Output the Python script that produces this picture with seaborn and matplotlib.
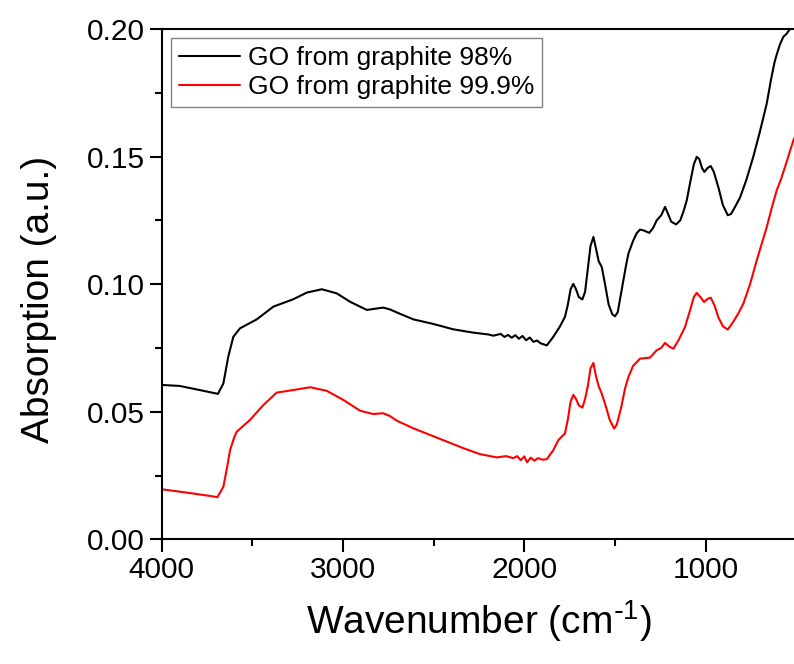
import pandas as pd
import seaborn as sns
import matplotlib
matplotlib.use('Agg')
import matplotlib.pyplot as plt
from matplotlib.ticker import MultipleLocator, FormatStrFormatter

# FTIR spectra (wavenumber in cm-1, absorption in a.u.)
label_98 = 'GO from graphite 98%'
label_999 = 'GO from graphite 99.9%'

wn_98 = [4000, 3900, 3770, 3690, 3660, 3633, 3605, 3568, 3476, 3384, 3274, 3200,
         3117, 3035, 2961, 2869, 2800, 2778, 2741, 2700, 2612, 2502, 2392, 2282,
         2200, 2171, 2130, 2110, 2090, 2070, 2050, 2030, 2010, 1990, 1970, 1950,
         1930, 1910, 1876, 1840, 1803, 1776, 1760, 1745, 1730, 1715, 1700, 1680,
         1665, 1650, 1635, 1619, 1605, 1590, 1573, 1555, 1535, 1515, 1500, 1485,
         1460, 1440, 1426, 1400, 1380, 1362, 1340, 1311, 1290, 1270, 1245, 1224,
         1210, 1190, 1163, 1140, 1120, 1104, 1085, 1065, 1049, 1035, 1020, 1007,
         990, 972, 955, 930, 905, 878, 860, 840, 810, 775, 737, 700, 663, 640,
         620, 608, 590, 571, 555, 535, 520]
abs_98 = [0.0605, 0.0601, 0.0582, 0.0570, 0.0611, 0.0716, 0.0794, 0.0827, 0.0862,
          0.0912, 0.0941, 0.0967, 0.0980, 0.0964, 0.0931, 0.0899, 0.0906, 0.0908,
          0.0901, 0.0888, 0.0862, 0.0844, 0.0823, 0.0810, 0.0803, 0.0798, 0.0805,
          0.0793, 0.0801, 0.0790, 0.0800, 0.0786, 0.0797, 0.0780, 0.0791, 0.0774,
          0.0779, 0.0768, 0.0760, 0.0794, 0.0835, 0.0872, 0.0920, 0.0980, 0.1001,
          0.0980, 0.0950, 0.0940, 0.0970, 0.1060, 0.1150, 0.1185, 0.1140, 0.1090,
          0.1067, 0.1000, 0.0920, 0.0882, 0.0874, 0.0890, 0.0990, 0.1070, 0.1120,
          0.1170, 0.1200, 0.1214, 0.1210, 0.1201, 0.1220, 0.1250, 0.1270, 0.1303,
          0.1280, 0.1245, 0.1234, 0.1250, 0.1290, 0.1329, 0.1400, 0.1470, 0.1499,
          0.1490, 0.1455, 0.1440, 0.1455, 0.1463, 0.1440, 0.1380, 0.1310, 0.1270,
          0.1275, 0.1300, 0.1340, 0.1410, 0.1500, 0.1600, 0.1708, 0.1800, 0.1870,
          0.1900, 0.1940, 0.1970, 0.1980, 0.2000, 0.2010]

wn_999 = [4000, 3862, 3734, 3693, 3660, 3640, 3623, 3600, 3586, 3513, 3440, 3366,
          3274, 3182, 3090, 2998, 2906, 2833, 2778, 2741, 2704, 2612, 2520, 2428,
          2336, 2245, 2153, 2100, 2061, 2040, 2020, 2000, 1985, 1965, 1945, 1925,
          1900, 1876, 1840, 1812, 1776, 1760, 1745, 1730, 1715, 1700, 1680, 1665,
          1650, 1635, 1619, 1605, 1590, 1573, 1550, 1530, 1505, 1490, 1465, 1445,
          1426, 1400, 1362, 1307, 1270, 1245, 1224, 1200, 1178, 1150, 1114, 1085,
          1065, 1049, 1030, 1009, 990, 972, 950, 930, 905, 878, 850, 820, 792, 755,
          718, 690, 663, 635, 608, 585, 562, 540, 516, 500]
abs_999 = [0.0196, 0.0183, 0.0170, 0.0165, 0.0206, 0.0280, 0.0350, 0.0400, 0.0422,
           0.0468, 0.0526, 0.0575, 0.0585, 0.0596, 0.0582, 0.0546, 0.0504, 0.0491,
           0.0494, 0.0483, 0.0465, 0.0435, 0.0409, 0.0383, 0.0357, 0.0334, 0.0321,
           0.0326, 0.0318, 0.0326, 0.0310, 0.0325, 0.0302, 0.0320, 0.0308, 0.0318,
           0.0312, 0.0314, 0.0350, 0.0389, 0.0415, 0.0470, 0.0540, 0.0566, 0.0550,
           0.0525, 0.0516, 0.0550, 0.0600, 0.0670, 0.0691, 0.0640, 0.0600, 0.0571,
           0.0520, 0.0470, 0.0434, 0.0450, 0.0520, 0.0590, 0.0636, 0.0680, 0.0708,
           0.0712, 0.0741, 0.0750, 0.0770, 0.0755, 0.0747, 0.0780, 0.0832, 0.0900,
           0.0950, 0.0966, 0.0950, 0.0930, 0.0942, 0.0947, 0.0915, 0.0870, 0.0835,
           0.0822, 0.0850, 0.0885, 0.0924, 0.1000, 0.1094, 0.1160, 0.1224, 0.1300,
           0.1368, 0.1410, 0.1460, 0.1510, 0.1564, 0.1590]

df = pd.concat([
    pd.DataFrame({'wavenumber': wn_98, 'absorption': abs_98, 'sample': label_98}),
    pd.DataFrame({'wavenumber': wn_999, 'absorption': abs_999, 'sample': label_999}),
])

sns.set_theme(style='ticks')
plt.rcParams['font.family'] = ['Liberation Sans', 'DejaVu Sans']
plt.rcParams['mathtext.default'] = 'regular'
for key in ['text.color', 'axes.labelcolor', 'xtick.color', 'ytick.color']:
    plt.rcParams[key] = 'black'

fig = plt.figure(figsize=(7.94, 6.64), dpi=100)
ax = fig.add_axes([0.2037, 0.1878, 0.7992, 0.7685])

sns.lineplot(data=df, x='wavenumber', y='absorption', hue='sample',
             palette={label_98: 'black', label_999: 'red'},
             estimator=None, sort=False, linewidth=1.5, ax=ax)

ax.set_xlim(4000, 500)
ax.set_ylim(0, 0.20)
ax.xaxis.set_major_locator(MultipleLocator(1000))
ax.xaxis.set_minor_locator(MultipleLocator(500))
ax.yaxis.set_major_locator(MultipleLocator(0.05))
ax.yaxis.set_minor_locator(MultipleLocator(0.025))
ax.yaxis.set_major_formatter(FormatStrFormatter('%.2f'))

for s in ax.spines.values():
    s.set_linewidth(1.5)
    s.set_color('black')
ax.tick_params(which='major', direction='out', length=9, width=1.5,
               labelsize=21.5, colors='black', pad=3)
ax.tick_params(which='minor', direction='out', length=5, width=1.5)

ax.set_xlabel(r'Wavenumber (cm$^{\text{-}1}$)', fontsize=28, labelpad=10)
ax.set_ylabel('Absorption (a.u.)', fontsize=28)
ax.yaxis.set_label_coords(-0.165, 0.47)

leg = ax.legend(loc='upper left', fontsize=19, frameon=True, fancybox=False,
                edgecolor='gray', borderaxespad=0.35, handlelength=2.3,
                handletextpad=0.3, labelspacing=0.2, borderpad=0.3)
leg.get_frame().set_linewidth(1.0)
leg.get_frame().set_alpha(1)

plt.savefig('out.png', dpi=100)
